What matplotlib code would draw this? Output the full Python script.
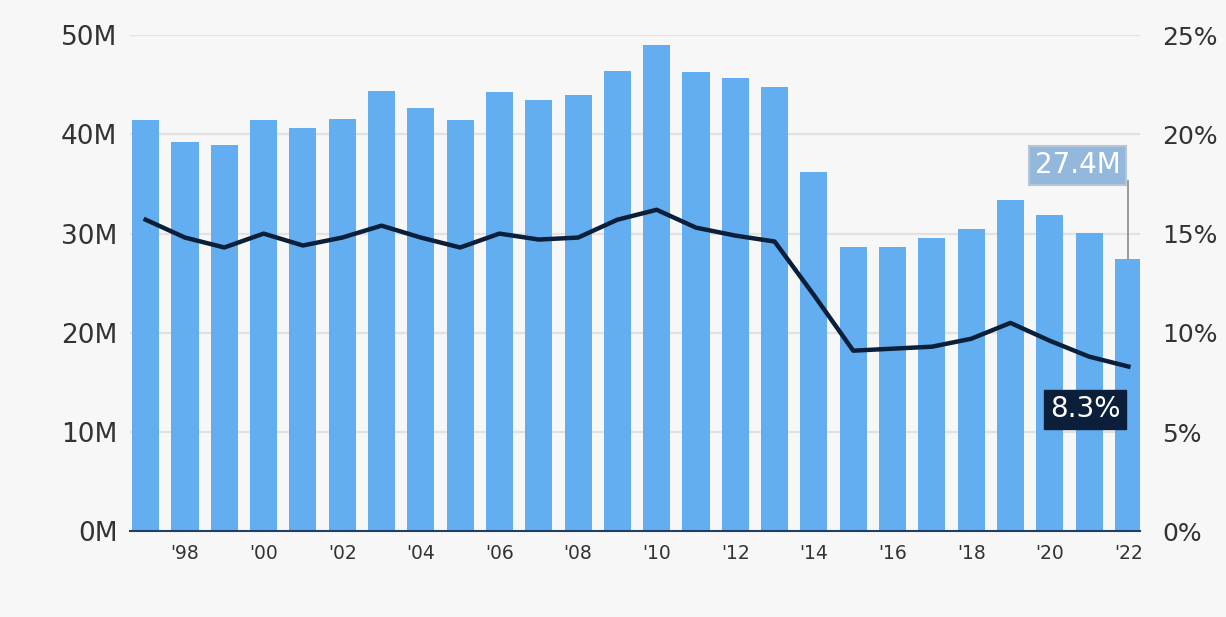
import matplotlib
matplotlib.use("Agg")
from matplotlib import pyplot as plt

# data
years = list(range(1997, 2023))
viewers_m = [41.4, 39.2, 38.9, 41.5, 40.6, 41.6, 44.4, 42.7, 41.5, 44.3,
             43.5, 44.0, 46.4, 49.0, 46.3, 45.7, 44.8, 36.2, 28.6, 28.6,
             29.6, 30.5, 33.4, 31.9, 30.1, 27.4]
share_pct = [15.7, 14.8, 14.3, 15.0, 14.4, 14.8, 15.4, 14.8, 14.3, 15.0,
             14.7, 14.8, 15.7, 16.2, 15.3, 14.9, 14.6, 11.9, 9.1, 9.2,
             9.3, 9.7, 10.5, 9.6, 8.8, 8.3]
left_ticks = [0, 10, 20, 30, 40, 50]
right_ticks = [0, 5, 10, 15, 20, 25]
tick_years = list(range(1998, 2023, 2))

bg = "#f7f7f7"
bar_color = "#63aef0"
line_color = "#0b1f3a"

fig = plt.figure(figsize=(12.26, 6.17), dpi=100, facecolor=bg)
ax = fig.add_axes([0.106, 0.139, 0.824, 0.804])
ax.set_facecolor(bg)

for t in left_ticks[1:]:
    ax.axhline(t, color="#e2e2e2", lw=1.6, zorder=0)

ax.bar(years, viewers_m, width=0.69, color=bar_color, zorder=2)
ax.set_xlim(1996.6, 2022.3)
ax.set_ylim(0, 50)

for s in ["top", "right", "left"]:
    ax.spines[s].set_visible(False)
ax.spines["bottom"].set_color("#1f3f66")
ax.spines["bottom"].set_linewidth(1.5)
ax.spines["bottom"].set_zorder(5)

ax.set_yticks(left_ticks)
ax.set_yticklabels([f"{t}M" for t in left_ticks])
ax.tick_params(axis="y", length=0, pad=9, labelsize=19, labelcolor="#333333")
ax.set_xticks(tick_years)
ax.set_xticklabels(["'" + str(y)[2:] for y in tick_years])
ax.tick_params(axis="x", length=0, pad=9, labelsize=13.5, labelcolor="#333333")

ax2 = ax.twinx()
ax2.set_ylim(0, 25)
ax2.plot(years, share_pct, color=line_color, lw=3.2, zorder=4,
         solid_joinstyle="round")
for s in ["top", "right", "left", "bottom"]:
    ax2.spines[s].set_visible(False)
ax2.set_yticks(right_ticks)
ax2.set_yticklabels([f"{t}%" for t in right_ticks])
ax2.tick_params(axis="y", length=0, pad=16, labelsize=18, labelcolor="#333333")

# value callouts for the last year
last_x, last_m, last_p = years[-1], viewers_m[-1], share_pct[-1]
ax.plot([last_x, last_x], [last_m, 35.3], color="#8a8a8a", lw=1.2, zorder=3)
ax.text(last_x - 0.2, 36.9, f"{last_m}M", ha="right", va="center", fontsize=20,
        color="white", zorder=6,
        bbox=dict(boxstyle="square,pad=0.2", fc="#93b8dc", ec="#b5c6d6", lw=1.5))
ax2.text(last_x - 0.2, 6.15, f"{last_p}%", ha="right", va="center",
         fontsize=20, color="white", zorder=6,
         bbox=dict(boxstyle="square,pad=0.2", fc=line_color, ec=line_color))

fig.savefig("out.png", dpi=100, facecolor=bg)
